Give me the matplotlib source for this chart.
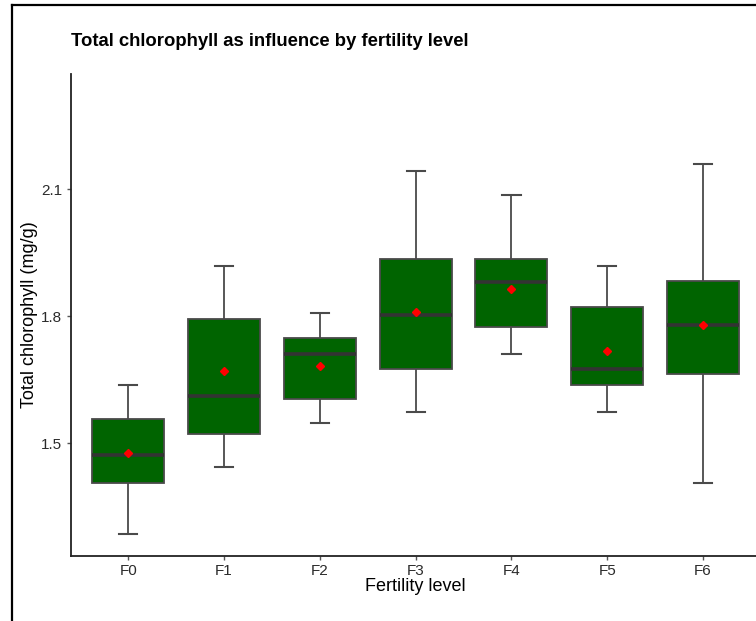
import numpy as np
import matplotlib.pyplot as plt
from matplotlib.lines import Line2D

plt.rcParams['font.family'] = ['Liberation Sans', 'DejaVu Sans']

levels = ['F0', 'F1', 'F2', 'F3', 'F4', 'F5', 'F6']
whisker_low = [1.285, 1.444, 1.548, 1.573, 1.711, 1.574, 1.406]
q1 = [1.405, 1.521, 1.605, 1.674, 1.774, 1.637, 1.663]
median = [1.472, 1.611, 1.710, 1.803, 1.880, 1.674, 1.780]
q3 = [1.557, 1.793, 1.748, 1.936, 1.934, 1.822, 1.883]
whisker_high = [1.637, 1.919, 1.808, 2.143, 2.086, 1.918, 2.160]
means = [1.476, 1.669, 1.683, 1.809, 1.863, 1.718, 1.778]

stats = []
for i, lev in enumerate(levels):
    stats.append({'label': lev, 'whislo': whisker_low[i], 'q1': q1[i], 'med': median[i],
                  'q3': q3[i], 'whishi': whisker_high[i], 'mean': means[i], 'fliers': []})

fig = plt.figure(figsize=(7.56, 6.21), dpi=100)
ax = fig.add_axes([0.0935, 0.1047, 1.006 - 0.0935, 0.8808 - 0.1047])

pos = np.arange(len(levels))
ax.bxp(stats, positions=pos, widths=0.75, capwidths=0.19, patch_artist=True,
       showmeans=False, showfliers=False,
       boxprops=dict(facecolor='#006400', edgecolor='#4a4a4a', linewidth=1.3),
       medianprops=dict(color='#333333', linewidth=2.6),
       whiskerprops=dict(color='#4a4a4a', linewidth=1.3),
       capprops=dict(color='#4a4a4a', linewidth=1.5))
ax.plot(pos, means, linestyle='none', marker='D', markersize=3.8, color='red', zorder=5)

ax.set_xlim(-0.6, 6.6)
ax.set_ylim(1.233, 2.372)
ax.set_yticks([1.5, 1.8, 2.1])
ax.set_yticklabels(['1.5', '1.8', '2.1'])
ax.set_xticks(pos)
ax.set_xticklabels(levels)

for s in ['top', 'right']:
    ax.spines[s].set_visible(False)
for s in ['left', 'bottom']:
    ax.spines[s].set_linewidth(1.3)
    ax.spines[s].set_color('#222222')
ax.tick_params(axis='both', length=3, width=1, color='#555555', labelsize=11,
               labelcolor='#2b2b2b', pad=3)

ax.set_xlabel('Fertility level', fontsize=13, labelpad=0)
ax.set_ylabel('Total chlorophyll (mg/g)', fontsize=13, labelpad=2.5)
ax.set_title('Total chlorophyll as influence by fertility level', loc='left',
             fontsize=13.3, fontweight='bold', pad=20)

# outer frame (only left and top edges visible in the crop)
fig.add_artist(Line2D([11.5 / 756, 11.5 / 756], [0, 1 - 5 / 621], transform=fig.transFigure,
                      color='black', linewidth=1.6))
fig.add_artist(Line2D([11.5 / 756, 1], [1 - 5 / 621, 1 - 5 / 621], transform=fig.transFigure,
                      color='black', linewidth=1.6))

fig.savefig('out.png', dpi=100)
